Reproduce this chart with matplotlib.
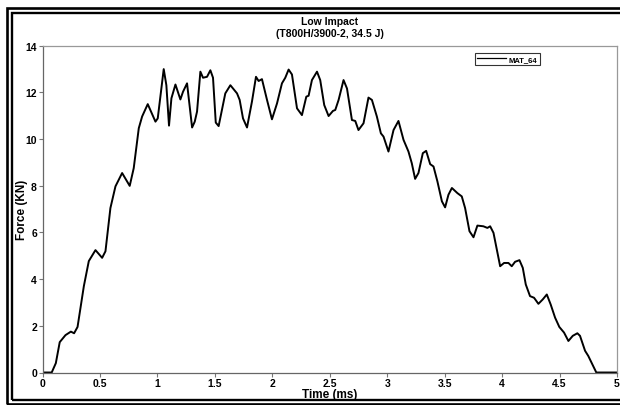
import matplotlib
matplotlib.use("Agg")
import matplotlib.pyplot as plt
from matplotlib.patches import Rectangle
from matplotlib.ticker import MultipleLocator, FuncFormatter

# Kracht-tijd curve
time_ms = [0, 0.08, 0.116, 0.15, 0.2, 0.247, 0.275, 0.305, 0.36, 0.403,
           0.461, 0.519, 0.548, 0.591, 0.635, 0.693, 0.759, 0.794, 0.838, 0.867,
           0.916, 0.983, 1.003, 1.055, 1.078, 1.101, 1.122, 1.157, 1.2, 1.223,
           1.258, 1.302, 1.325, 1.345, 1.374, 1.397, 1.432, 1.461, 1.484, 1.508,
           1.533, 1.591, 1.635, 1.693, 1.716, 1.745, 1.78, 1.823, 1.858, 1.881,
           1.91, 1.954, 1.997, 2.041, 2.084, 2.113, 2.142, 2.171, 2.215, 2.258,
           2.296, 2.316, 2.345, 2.389, 2.417, 2.452, 2.49, 2.528, 2.548, 2.577,
           2.62, 2.65, 2.693, 2.722, 2.75, 2.794, 2.837, 2.867, 2.91, 2.945,
           2.968, 3.011, 3.055, 3.098, 3.142, 3.185, 3.214, 3.243, 3.272, 3.31,
           3.339, 3.374, 3.403, 3.437, 3.476, 3.504, 3.533, 3.563, 3.611, 3.649,
           3.678, 3.716, 3.751, 3.785, 3.837, 3.872, 3.896, 3.925, 3.983, 4.017,
           4.055, 4.084, 4.113, 4.151, 4.18, 4.206, 4.243, 4.278, 4.316, 4.354,
           4.389, 4.423, 4.461, 4.498, 4.539, 4.577, 4.615, 4.655, 4.678, 4.722,
           4.75, 4.79, 4.82, 5.0]
force_kn = [0, 0, 0.4, 1.3, 1.6, 1.75, 1.68, 1.95, 3.7, 4.77,
            5.24, 4.91, 5.19, 7.04, 7.97, 8.54, 7.99, 8.75, 10.46, 10.96,
            11.49, 10.74, 10.88, 12.99, 12.3, 10.57, 11.74, 12.33, 11.69, 12.02,
            12.38, 10.49, 10.74, 11.17, 12.88, 12.62, 12.66, 12.94, 12.62, 10.7,
            10.55, 11.95, 12.3, 11.95, 11.67, 10.88, 10.49, 11.6, 12.66, 12.48,
            12.56, 11.67, 10.84, 11.52, 12.38, 12.62, 12.97, 12.76, 11.31, 11.02,
            11.81, 11.85, 12.52, 12.88, 12.52, 11.45, 10.98, 11.2, 11.24, 11.67,
            12.52, 12.16, 10.81, 10.77, 10.38, 10.67, 11.77, 11.67, 10.96, 10.24,
            10.1, 9.46, 10.38, 10.77, 9.96, 9.46, 8.96, 8.29, 8.54, 9.39,
            9.49, 8.92, 8.82, 8.18, 7.33, 7.07, 7.61, 7.9, 7.68, 7.54,
            7.04, 6.05, 5.79, 6.29, 6.26, 6.19, 6.26, 5.98, 4.55, 4.69,
            4.69, 4.55, 4.74, 4.81, 4.48, 3.77, 3.27, 3.2, 2.94, 3.13,
            3.34, 2.91, 2.35, 1.95, 1.71, 1.35, 1.57, 1.68, 1.57, 0.93,
            0.71, 0.3, 0, 0]
series_name = "MAT_64"
title_text = "Low Impact\n(T800H/3900-2, 34.5 J)"

plt.rcParams["font.family"] = ["Liberation Sans", "DejaVu Sans"]
plt.rcParams["font.weight"] = "bold"

W, H = 620, 406
fig = plt.figure(figsize=(W / 100, H / 100), dpi=100)


def fx(px):
    return px / W


def fy(py):
    return 1 - py / H


# Dubbele rand rond de figuur
for x0, y0, y1, lw in [(7, 9, 404.5, 1.9), (12.2, 14, 401, 1.7)]:
    fig.add_artist(Rectangle((fx(x0), fy(y1)), fx(660 - x0), fy(y0) - fy(y1),
                             transform=fig.transFigure, fill=False,
                             edgecolor="black", linewidth=lw))

ax = fig.add_axes([fx(42.5), fy(373.5), fx(617) - fx(42.5), fy(46.5) - fy(373.5)])
ax.plot(time_ms, force_kn, color="black", linewidth=1.4, label=series_name)

ax.set_xlim(0, 5)
ax.set_ylim(0, 14)
ax.xaxis.set_major_locator(MultipleLocator(0.5))
ax.yaxis.set_major_locator(MultipleLocator(2))
ax.xaxis.set_major_formatter(FuncFormatter(lambda v, p: f"{v:g}"))
ax.tick_params(colors="#777777", labelcolor="black", labelsize=7.5,
               length=3, width=0.8, pad=1)
for s in ax.spines.values():
    s.set_color("#999999")
    s.set_linewidth(0.9)
ax.spines["left"].set_color("#666666")
ax.spines["bottom"].set_color("#666666")

ax.set_title(title_text, fontsize=7.5, fontweight="bold", pad=6.5, linespacing=1.25)
ax.set_xlabel("Time (ms)", fontsize=8.5, fontweight="bold")
ax.set_ylabel("Force (KN)", fontsize=8.5, fontweight="bold")
ax.xaxis.set_label_coords(0.5, (373.5 - 395.5) / 327)
ax.xaxis.label.set_va("center")
ax.yaxis.set_label_coords((22 - 42.5) / 574.5, 0.5)
ax.yaxis.label.set_va("center")

leg = ax.legend(loc="upper left", bbox_to_anchor=(0.752, 0.978), fontsize=5.5,
                frameon=True, fancybox=False, edgecolor="black",
                handlelength=3.8, handletextpad=0.3, borderpad=0.35,
                borderaxespad=0)
leg.get_frame().set_linewidth(0.8)
for ln in leg.get_lines():
    ln.set_linewidth(0.9)

fig.savefig("out.png", dpi=100)
